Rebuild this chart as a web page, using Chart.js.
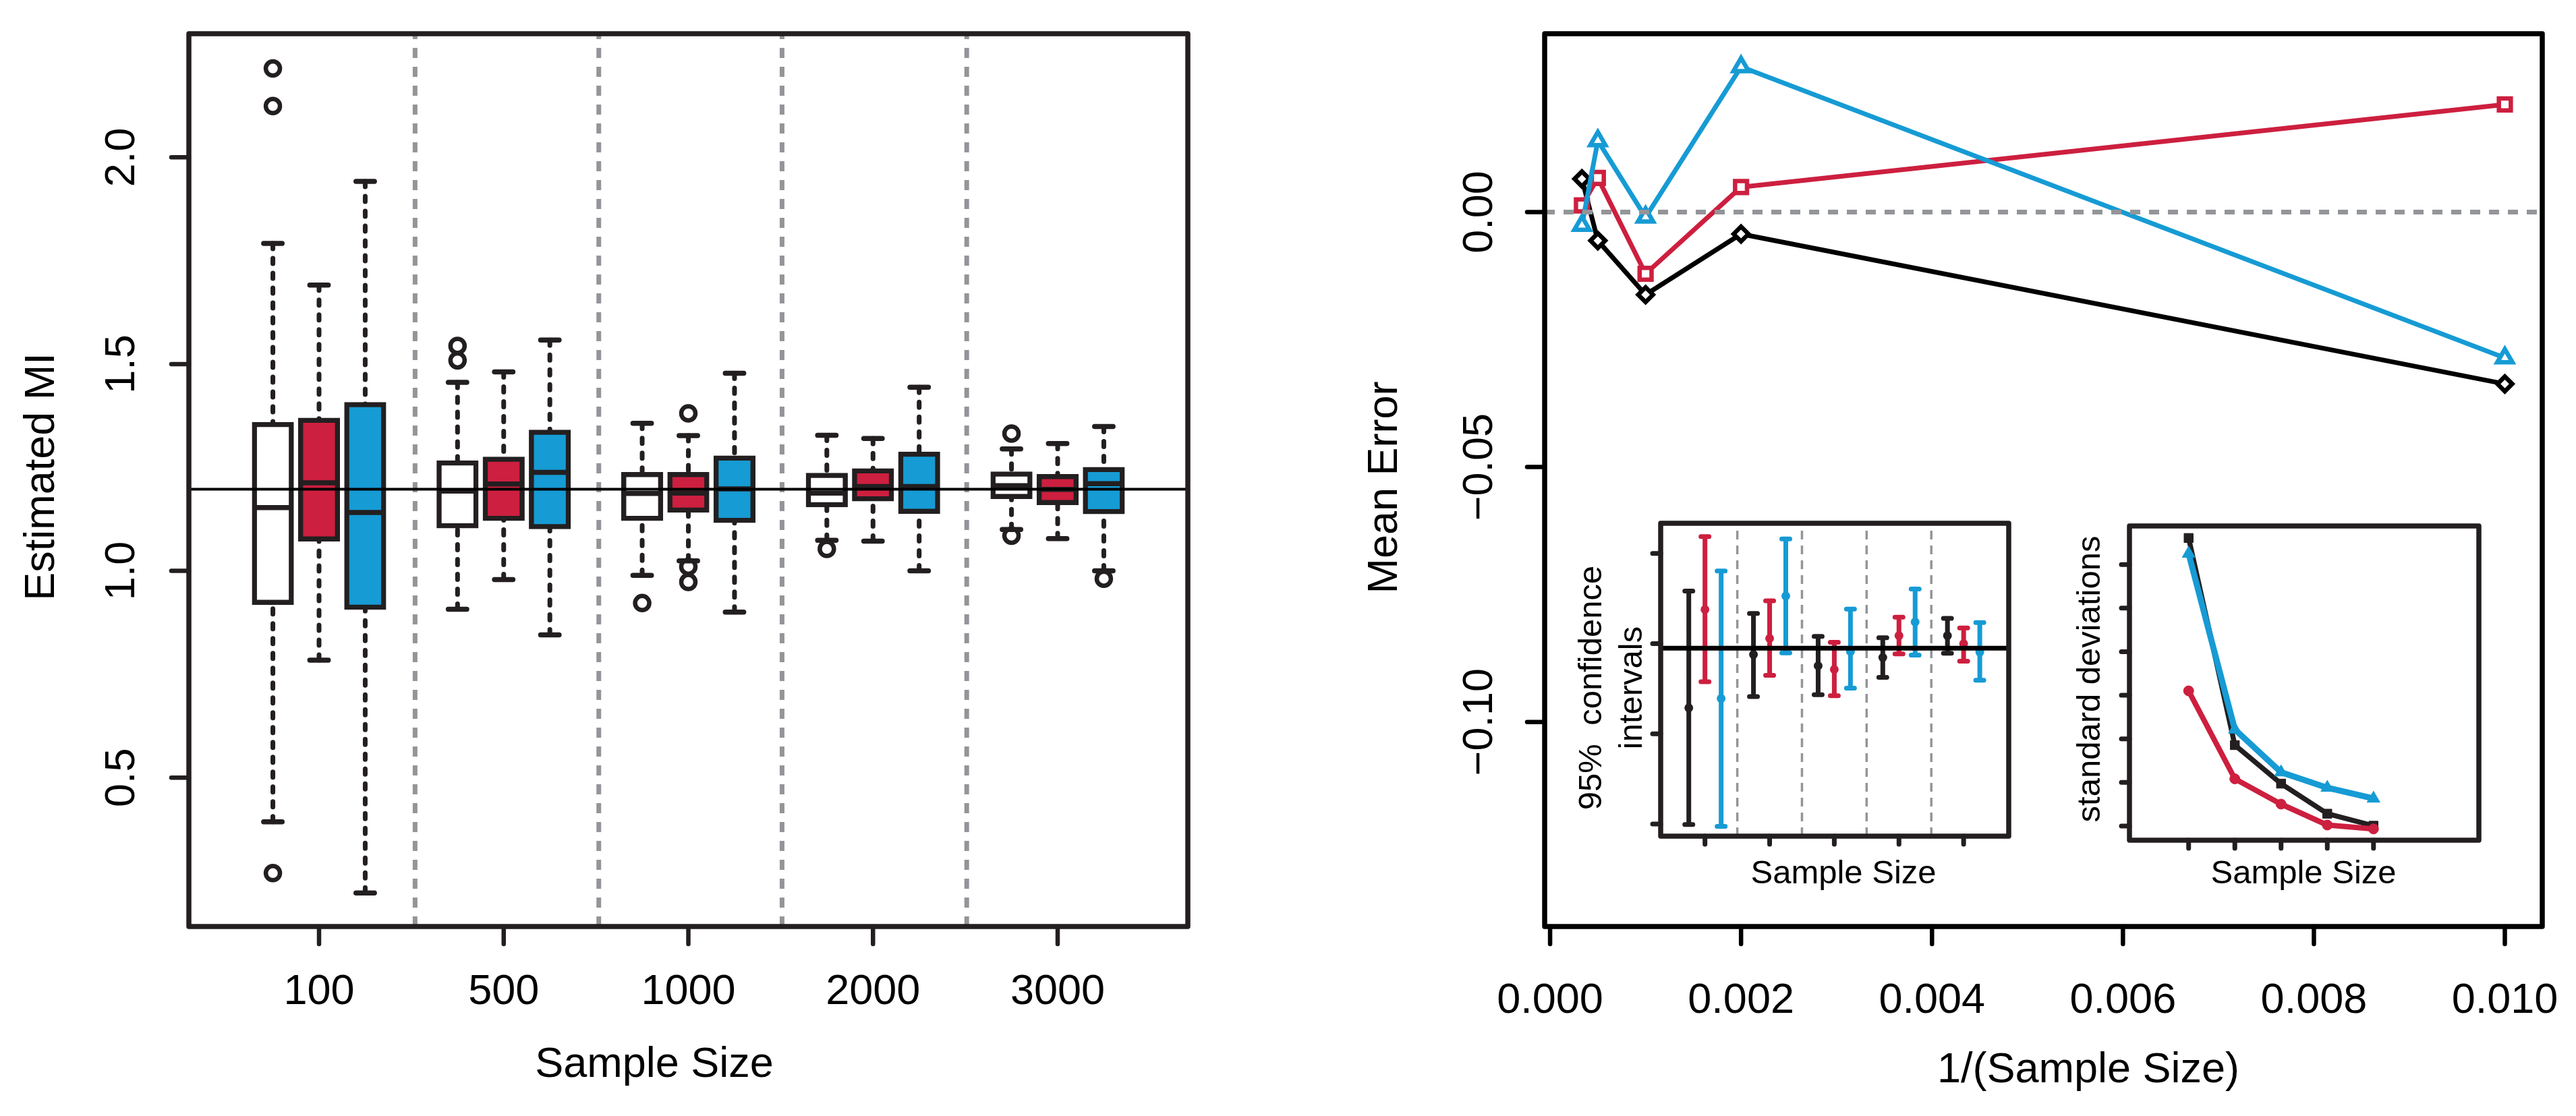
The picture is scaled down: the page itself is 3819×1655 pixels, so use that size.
<!DOCTYPE html>
<html>
<head>
<meta charset="utf-8">
<title>Estimated MI and mean error by sample size</title>
<script src="https://cdn.jsdelivr.net/npm/chart.js@4.4.1/dist/chart.umd.min.js"></script>
<style>
  html, body { margin: 0; padding: 0; background: #fff; }
  #figure { position: relative; width: 3819px; height: 1655px; background: #fff; overflow: hidden; }
  #figure canvas { position: absolute; }
  #leftChart { left: 0; top: 0; }
  #rightChart { left: 1910px; top: 0; }
  #ciChart { left: 2320px; top: 740px; }
  #sdChart { left: 3060px; top: 740px; }
</style>
</head>
<body>
<div id="figure">
  <canvas id="leftChart" width="1910" height="1655"></canvas>
  <canvas id="rightChart" width="1909" height="1655"></canvas>
  <canvas id="ciChart" width="690" height="600"></canvas>
  <canvas id="sdChart" width="660" height="600"></canvas>
</div>
<script>
// ---- data ----
const sampleSizes = [100, 500, 1000, 2000, 3000];
const sampleLabels = ['100', '500', '1000', '2000', '3000'];
const trueMI = 1.1975;

// Estimated MI per sample size: [lower whisker, Q1, median, Q3, upper whisker]
const boxBlack = [
  [0.393, 0.924, 1.153, 1.354, 1.792],
  [0.907, 1.109, 1.193, 1.261, 1.456],
  [0.989, 1.127, 1.187, 1.233, 1.357],
  [1.074, 1.160, 1.188, 1.231, 1.328],
  [1.100, 1.180, 1.206, 1.234, 1.295]
];
const boxRed = [
  [0.784, 1.077, 1.213, 1.364, 1.691],
  [0.979, 1.127, 1.210, 1.270, 1.481],
  [1.024, 1.147, 1.188, 1.233, 1.327],
  [1.072, 1.174, 1.204, 1.242, 1.320],
  [1.078, 1.165, 1.197, 1.228, 1.308]
];
const boxBlue = [
  [0.221, 0.912, 1.141, 1.402, 1.942],
  [0.845, 1.107, 1.238, 1.335, 1.558],
  [0.900, 1.122, 1.198, 1.273, 1.478],
  [1.000, 1.144, 1.204, 1.282, 1.444],
  [1.000, 1.143, 1.211, 1.245, 1.349]
];
const outBlack = [[2.215, 2.124, 0.269], [1.544, 1.509], [0.922], [1.053], [1.332, 1.085]];
const outRed = [[], [], [1.381, 1.010, 0.973], [], []];
const outBlue = [[], [], [], [], [0.981]];

// Mean error per sample size
const errBlack = [-0.0337, -0.0043, -0.0162, -0.0056, 0.0065];
const errRed = [0.0211, 0.0049, -0.0121, 0.0067, 0.0013];
const errBlue = [-0.0286, 0.0285, -0.0010, 0.0140, -0.0026];

// Inset: 95% confidence intervals of the estimate
const ciLowBlack = [1.0997, 1.1707, 1.1717, 1.1813, 1.1947];
const ciMidBlack = [1.1644, 1.1940, 1.1877, 1.1923, 1.2044];
const ciHighBlack = [1.2291, 1.2167, 1.2040, 1.2033, 1.2140];
const ciLowRed = [1.1789, 1.1824, 1.1711, 1.1943, 1.1903];
const ciMidRed = [1.2189, 1.2029, 1.1857, 1.2044, 1.2000];
const ciHighRed = [1.2593, 1.2237, 1.2007, 1.2147, 1.2087];
const ciLowBlue = [1.0987, 1.1949, 1.1753, 1.1936, 1.1797];
const ciMidBlue = [1.1696, 1.2264, 1.1956, 1.2120, 1.1953];
const ciHighBlue = [1.2403, 1.2580, 1.2191, 1.2303, 1.2117];

// Inset: standard deviations
const sdBlack = [0.3804, 0.1428, 0.0986, 0.0641, 0.0503];
const sdRed = [0.2050, 0.1041, 0.0751, 0.0511, 0.0467];
const sdBlue = [0.3624, 0.1608, 0.1116, 0.0939, 0.0815];

// tick values and labels
const leftYTicks = [0.5, 1.0, 1.5, 2.0];
const leftYLabels = ['0.5', '1.0', '1.5', '2.0'];
const rightXTicks = [0, 0.002, 0.004, 0.006, 0.008, 0.010];
const rightXLabels = ['0.000', '0.002', '0.004', '0.006', '0.008', '0.010'];
const rightYTicks = [0, -0.05, -0.10];
const rightYLabels = ['0.00', '\u22120.05', '\u22120.10'];
const ciYTicks = [1.10, 1.15, 1.20, 1.25];
const sdYTicks = [0.05, 0.10, 0.15, 0.20, 0.25, 0.30, 0.35];

// ---- styling ----
const FONT = '"Liberation Sans", Arial, Helvetica, sans-serif';
const INK = '#231F20';
const RED = '#CD1F3F';
const BLUE = '#169BD4';
const GREY = '#939598';

const boxPos = (g, k) => 4 * g + k + 1;          // three boxes per sample size
const groupCentres = sampleSizes.map((n, g) => 4 * g + 2);

// rotated text, reading bottom to top
function upText(ctx, text, x, y) {
  ctx.save();
  ctx.translate(x, y);
  ctx.rotate(-Math.PI / 2);
  ctx.textAlign = 'center';
  ctx.fillText(text, 0, 0);
  ctx.restore();
}

// R-style frame, ticks and titles drawn through the chart scales
function axesPlugin(cfg) {
  return {
    id: 'rAxes',
    afterDraw(chart) {
      const { ctx, chartArea: a } = chart;
      const xs = chart.scales.x, ys = chart.scales.y;
      ctx.save();
      ctx.strokeStyle = cfg.color;
      ctx.lineWidth = cfg.boxWidth;
      ctx.lineJoin = 'round';
      ctx.strokeRect(a.left, a.top, a.right - a.left, a.bottom - a.top);
      ctx.lineWidth = cfg.tickWidth;
      ctx.lineCap = 'round';
      ctx.fillStyle = '#000';
      ctx.font = cfg.font;
      ctx.textAlign = 'center';
      ctx.textBaseline = 'alphabetic';
      cfg.xTicks.forEach((v, i) => {
        const px = xs.getPixelForValue(v);
        ctx.beginPath();
        ctx.moveTo(px, a.bottom);
        ctx.lineTo(px, a.bottom + cfg.tickLen);
        ctx.stroke();
        if (cfg.xLabels) ctx.fillText(cfg.xLabels[i], px, cfg.xLabelY);
      });
      cfg.yTicks.forEach((v, i) => {
        const py = ys.getPixelForValue(v);
        ctx.beginPath();
        ctx.moveTo(a.left, py);
        ctx.lineTo(a.left - cfg.tickLen, py);
        ctx.stroke();
        if (cfg.yLabels) upText(ctx, cfg.yLabels[i], cfg.yLabelX, py);
      });
      ctx.fillText(cfg.xTitle.text, cfg.xTitle.x, cfg.xTitle.y);
      cfg.yTitle.lines.forEach(l => upText(ctx, l.text, l.x, cfg.yTitle.y));
      ctx.restore();
    }
  };
}

// list of [x1, y1, x2, y2] -> broken line data
function segments(list) {
  const pts = [];
  list.forEach(s => pts.push({ x: s[0], y: s[1] }, { x: s[2], y: s[3] }, { x: s[2], y: null }));
  return pts;
}

function lineSet(data, color, width, extra) {
  return Object.assign({
    type: 'line', data: data, borderColor: color, borderWidth: width,
    pointRadius: 0, fill: false
  }, extra);
}

function fixedScale(min, max, ticks) {
  return {
    type: 'linear', display: false, min: min, max: max, offset: false,
    ticks: { autoSkip: false },
    afterBuildTicks: s => { s.ticks = ticks.map(v => ({ value: v })); }
  };
}

function baseOptions(padding, xScale, yScale) {
  return {
    responsive: false,
    animation: false,
    events: [],
    devicePixelRatio: 1,
    layout: { padding: padding },
    scales: { x: xScale, y: yScale },
    plugins: { legend: { display: false }, tooltip: { enabled: false } }
  };
}

// ---- left: box plots of estimated MI ----
const leftX = [-0.82, 20.82];
const leftY = [0.1398, 2.299];
const leftSeparators = [4.08, 8.06, 12.03, 16.03];

const estimators = [
  { stats: boxBlack, out: outBlack, fill: '#FFFFFF' },
  { stats: boxRed, out: outRed, fill: RED },
  { stats: boxBlue, out: outBlue, fill: BLUE }
];

const whiskers = [], staples = [], medians = [];
estimators.forEach((e, k) => {
  e.stats.forEach((s, g) => {
    const x = boxPos(g, k);
    whiskers.push([x, s[4], x, s[3]], [x, s[0], x, s[1]]);
    staples.push([x - 0.2, s[0], x + 0.2, s[0]], [x - 0.2, s[4], x + 0.2, s[4]]);
    medians.push([x - 0.4, s[2], x + 0.4, s[2]]);
  });
});

const leftDatasets = [
  lineSet(segments(leftSeparators.map(x => [x, leftY[0], x, leftY[1]])), GREY, 7,
    { borderDash: [15, 13], order: 9 }),
  lineSet(segments(whiskers), INK, 7,
    { borderDash: [8, 14], borderCapStyle: 'round', order: 8 }),
  lineSet(segments(staples), INK, 7.5, { borderCapStyle: 'round', order: 7 })
];
estimators.forEach((e, k) => {
  leftDatasets.push({
    type: 'bar',
    data: e.stats.map((s, g) => ({ x: boxPos(g, k), y: [s[1], s[3]] })),
    backgroundColor: e.fill,
    borderColor: INK,
    borderWidth: 7.5,
    borderSkipped: false,
    inflateAmount: 3.75,
    grouped: false,
    barPercentage: 0.8,
    categoryPercentage: 1,
    order: 6
  });
});
leftDatasets.push(lineSet(segments(medians), INK, 7.5, { order: 5 }));
estimators.forEach((e, k) => {
  const pts = [];
  e.out.forEach((vals, g) => vals.forEach(v => pts.push({ x: boxPos(g, k), y: v })));
  leftDatasets.push({
    type: 'scatter', data: pts, pointStyle: 'circle', pointRadius: 10.5,
    pointBorderWidth: 6.5, pointBorderColor: INK, pointBackgroundColor: 'rgba(0,0,0,0)', order: 4
  });
});
leftDatasets.push(lineSet([{ x: leftX[0], y: trueMI }, { x: leftX[1], y: trueMI }], '#000', 4, { order: 3 }));

new Chart(document.getElementById('leftChart'), {
  type: 'bar',
  data: { datasets: leftDatasets },
  options: baseOptions({ left: 280, right: 149, top: 50, bottom: 281 },
    fixedScale(leftX[0], leftX[1], groupCentres),
    fixedScale(leftY[0], leftY[1], leftYTicks)),
  plugins: [axesPlugin({
    color: INK, boxWidth: 7.5, tickWidth: 6.5, tickLen: 26, font: '63px ' + FONT,
    xTicks: groupCentres, xLabels: sampleLabels, xLabelY: 1489,
    yTicks: leftYTicks, yLabels: leftYLabels, yLabelX: 199,
    xTitle: { text: 'Sample Size', x: 970, y: 1597 },
    yTitle: { lines: [{ text: 'Estimated MI', x: 80 }], y: 707 }
  })]
});

// ---- right: mean error against 1/(sample size) ----
const rightX = [-0.000057, 0.010392];
const rightY = [-0.14011, 0.03498];
const invSize = sampleSizes.map(n => 1 / n);

function errSet(values, color, style, radius, order) {
  return {
    type: 'line',
    data: values.map((v, i) => ({ x: invSize[i], y: v })),
    borderColor: color, borderWidth: 7,
    borderCapStyle: 'round', borderJoinStyle: 'round',
    pointStyle: style, pointRadius: radius, pointBorderWidth: 6.5,
    pointBorderColor: color, pointBackgroundColor: '#FFFFFF',
    order: order
  };
}

new Chart(document.getElementById('rightChart'), {
  type: 'line',
  data: {
    datasets: [
      errSet(errBlack, '#000', 'rectRot', 11, 3),
      errSet(errRed, RED, 'rect', 12.5, 2),
      errSet(errBlue, BLUE, 'triangle', 13, 1),
      lineSet([{ x: rightX[0], y: 0 }, { x: rightX[1], y: 0 }], GREY, 7,
        { borderDash: [15, 13], order: 0 })
    ]
  },
  options: baseOptions({ left: 380, right: 50, top: 50, bottom: 281 },
    fixedScale(rightX[0], rightX[1], rightXTicks),
    fixedScale(rightY[0], rightY[1], rightYTicks)),
  plugins: [axesPlugin({
    color: '#000', boxWidth: 7.5, tickWidth: 6.5, tickLen: 26, font: '63px ' + FONT,
    xTicks: rightXTicks, xLabels: rightXLabels, xLabelY: 1502,
    yTicks: rightYTicks, yLabels: rightYLabels, yLabelX: 302,
    xTitle: { text: '1/(Sample Size)', x: 1186, y: 1605 },
    yTitle: { lines: [{ text: 'Mean Error', x: 161 }], y: 723 }
  })]
});

// ---- inset: confidence intervals ----
const ciX = [-0.74, 20.79];
const ciY = [1.0933, 1.2667];
const ciSeparators = [4, 8, 12, 16];
const ciSeries = [
  { low: ciLowBlack, mid: ciMidBlack, high: ciHighBlack, color: INK },
  { low: ciLowRed, mid: ciMidRed, high: ciHighRed, color: RED },
  { low: ciLowBlue, mid: ciMidBlue, high: ciHighBlue, color: BLUE }
];
const ciDatasets = [
  lineSet(segments(ciSeparators.map(x => [x, ciY[0], x, ciY[1]])), GREY, 3.5,
    { borderDash: [13, 9], order: 9 })
];
ciSeries.forEach((c, k) => {
  const segs = [];
  c.low.forEach((lo, g) => {
    const x = boxPos(g, k), hi = c.high[g];
    segs.push([x, lo, x, hi], [x - 0.25, lo, x + 0.25, lo], [x - 0.25, hi, x + 0.25, hi]);
  });
  ciDatasets.push(lineSet(segments(segs), c.color, 7, { borderCapStyle: 'round', order: 5 }));
  ciDatasets.push({
    type: 'scatter', data: c.mid.map((v, g) => ({ x: boxPos(g, k), y: v })),
    pointStyle: 'circle', pointRadius: 6.5, pointBorderWidth: 0,
    pointBackgroundColor: c.color, order: 4
  });
});
ciDatasets.push(lineSet([{ x: ciX[0], y: trueMI }, { x: ciX[1], y: trueMI }], '#000', 7, { order: 0 }));

new Chart(document.getElementById('ciChart'), {
  type: 'line',
  data: { datasets: ciDatasets },
  options: baseOptions({ left: 142, right: 32, top: 36, bottom: 100 },
    fixedScale(ciX[0], ciX[1], groupCentres),
    fixedScale(ciY[0], ciY[1], ciYTicks)),
  plugins: [axesPlugin({
    color: INK, boxWidth: 7.5, tickWidth: 7, tickLen: 12, font: '49px ' + FONT,
    xTicks: groupCentres, xLabels: null,
    yTicks: ciYTicks, yLabels: null,
    xTitle: { text: 'Sample Size', x: 413, y: 570 },
    yTitle: { lines: [{ text: '95%  confidence', x: 54 }, { text: 'intervals', x: 114 }], y: 280 }
  })]
});

// ---- inset: standard deviations ----
const sdX = [-0.28, 7.28];
const sdY = [0.0337, 0.3942];
const sdXTicks = sampleSizes.map((n, i) => i + 1);

function sdSet(values, color, width, style, radius, order) {
  return {
    type: 'line',
    data: values.map((v, i) => ({ x: i + 1, y: v })),
    borderColor: color, borderWidth: width,
    borderCapStyle: 'round', borderJoinStyle: 'round',
    pointStyle: style, pointRadius: radius, pointBorderWidth: 1,
    pointBorderColor: color, pointBackgroundColor: color,
    order: order
  };
}

new Chart(document.getElementById('sdChart'), {
  type: 'line',
  data: {
    datasets: [
      sdSet(sdBlack, INK, 7.5, 'rect', 9.5, 3),
      sdSet(sdRed, RED, 8, 'circle', 7.5, 2),
      sdSet(sdBlue, BLUE, 9, 'triangle', 11, 1)
    ]
  },
  options: baseOptions({ left: 97, right: 45, top: 40, bottom: 94 },
    fixedScale(sdX[0], sdX[1], sdXTicks),
    fixedScale(sdY[0], sdY[1], sdYTicks)),
  plugins: [axesPlugin({
    color: INK, boxWidth: 7.5, tickWidth: 7, tickLen: 12, font: '49px ' + FONT,
    xTicks: sdXTicks, xLabels: null,
    yTicks: sdYTicks, yLabels: null,
    xTitle: { text: 'Sample Size', x: 355, y: 570 },
    yTitle: { lines: [{ text: 'standard deviations', x: 53 }], y: 267 }
  })]
});
</script>
</body>
</html>
